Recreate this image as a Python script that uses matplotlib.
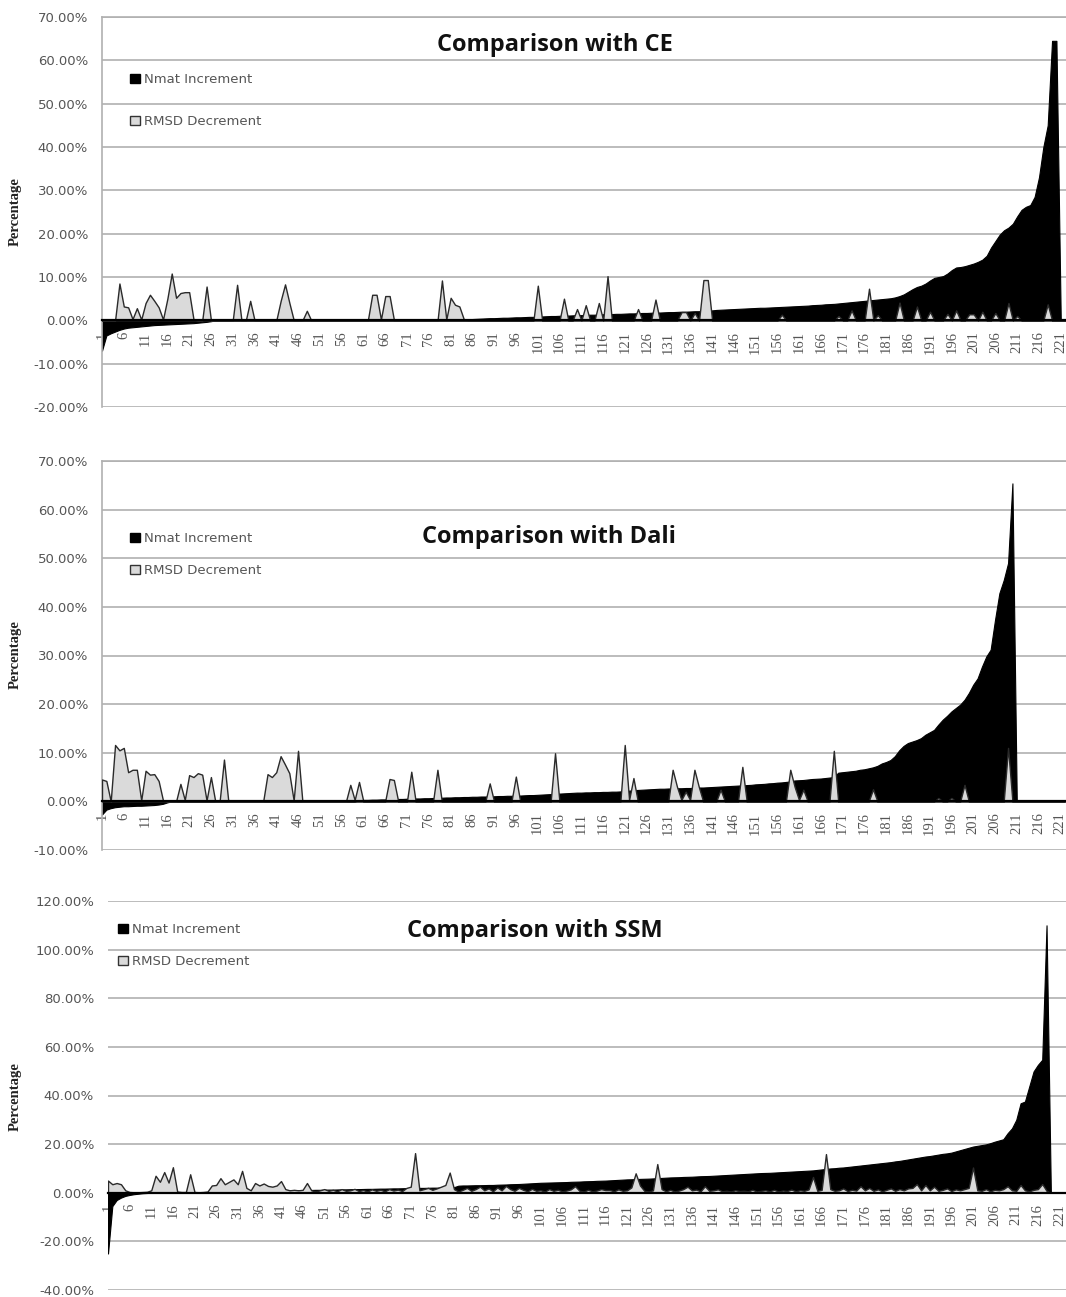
import matplotlib.pyplot as plt
import numpy as np
from matplotlib.patches import Patch

# category index 1..222 (one per structure pair)
cats = np.arange(1, 223)
tick_cats = list(range(1, 222, 5))

# ---- Comparison with CE ----
ce_nmat = [
    -7.0, -3.5, -3.0, -2.6, -2.2, -1.9, -1.7, -1.6, -1.5, -1.4,
    -1.3, -1.2, -1.1, -1.05, -1.0, -0.95, -0.9, -0.85, -0.8, -0.75,
    -0.7, -0.65, -0.55, -0.45, -0.35, -0.2, 0, 0, 0, 0,
    0, 0, 0, 0, 0, 0, 0, 0, 0, 0,
    0, 0, 0, 0, 0, 0, 0, 0, 0, 0,
    0, 0, 0, 0, 0, 0, 0, 0, 0, 0,
    0, 0, 0, 0, 0, 0, 0, 0, 0, 0,
    0, 0, 0, 0, 0, 0, 0, 0, 0, 0,
    0, 0, 0, 0, 0, 0.3, 0.35, 0.4, 0.45, 0.5,
    0.5, 0.55, 0.6, 0.6, 0.65, 0.7, 0.7, 0.75, 0.8, 0.8,
    0.85, 0.9, 0.95, 1.0, 1.0, 1.05, 1.1, 1.1, 1.15, 1.2,
    1.2, 1.25, 1.3, 1.3, 1.35, 1.4, 1.4, 1.45, 1.5, 1.5,
    1.55, 1.6, 1.6, 1.65, 1.7, 1.7, 1.75, 1.8, 1.8, 1.85,
    1.9, 1.9, 1.95, 2.0, 2.0, 2.05, 2.1, 2.1, 2.15, 2.2,
    2.3, 2.4, 2.45, 2.5, 2.55, 2.6, 2.65, 2.7, 2.75, 2.8,
    2.85, 2.9, 2.9, 2.95, 3.0, 3.05, 3.1, 3.15, 3.2, 3.25,
    3.3, 3.35, 3.4, 3.5, 3.55, 3.6, 3.7, 3.75, 3.8, 3.9,
    4.0, 4.1, 4.2, 4.3, 4.4, 4.5, 4.6, 4.7, 4.8, 4.9,
    5.0, 5.1, 5.3, 5.6, 6.0, 6.6, 7.2, 7.7, 8.0, 8.5,
    9.2, 9.8, 10.0, 10.2, 10.8, 11.6, 12.2, 12.3, 12.5, 12.8,
    13.1, 13.5, 14.0, 14.9, 16.8, 18.3, 19.8, 20.8, 21.4, 22.3,
    24.0, 25.5, 26.2, 26.6, 28.5, 33.0, 40.0, 45.0, 64.5, 64.5,
    0, 0,
]
ce_rmsd = [
    0, 0, 0, 0, 8.5, 3.2, 3.0, 0.3, 2.8, 0.2,
    4.0, 5.9, 4.5, 3.0, 0.2, 5.0, 10.8, 5.2, 6.3, 6.5,
    6.5, 0.2, 0, 0, 7.8, 0, 0, 0, 0, 0,
    0, 8.2, 0, 0, 4.5, 0, 0, 0, 0, 0,
    0, 4.5, 8.3, 4.0, 0, 0, 0, 2.2, 0, 0,
    0, 0, 0, 0, 0, 0, 0, 0, 0, 0,
    0, 0, 5.9, 5.9, 0.2, 5.6, 5.6, 0, 0, 0,
    0, 0, 0, 0, 0, 0, 0, 0, 9.2, 0.2,
    5.2, 3.6, 3.2, 0.3, 0, 0, 0, 0, 0, 0,
    0, 0, 0, 0, 0, 0, 0, 0, 0, 0,
    8.0, 0, 0, 0, 0, 0, 5.0, 0, 0, 2.6,
    0, 3.5, 0, 0, 4.0, 0, 10.2, 0, 0, 0,
    0, 0, 0, 2.6, 0, 0, 0, 4.8, 0, 0,
    0, 0, 0, 1.9, 1.9, 0, 1.7, 0, 9.3, 9.3,
    0, 0, 0, 0, 0, 0, 0, 0, 0, 0,
    0, 0, 0, 0, 0, 0, 1.3, 0, 0, 0,
    0, 0, 0, 0, 0, 0, 0, 0, 0, 1.0,
    0, 0, 2.3, 0, 0, 0, 7.3, 0, 1.2, 0,
    0, 0, 0, 4.1, 0, 0, 0, 3.2, 0, 0,
    2.0, 0, 0, 0, 1.5, 0, 2.3, 0, 0, 1.4,
    1.4, 0, 2.0, 0, 0, 1.7, 0, 0, 4.0, 0,
    1.0, 0, 0, 0, 0, 0, 0, 3.7, 0, 0,
    0, 0,
]

# ---- Comparison with Dali ----
dali_nmat = [
    -2.7, -1.7, -1.4, -1.2, -1.1, -1.0, -1.0, -0.95, -0.9, -0.9,
    -0.85, -0.8, -0.75, -0.65, -0.5, -0.2, 0, 0, 0, 0,
    0, 0, 0, 0, 0, 0, 0, 0, 0, 0,
    0, 0, 0, 0, 0, 0, 0, 0, 0, 0,
    0, 0, 0, 0, 0, 0, 0, 0, 0, 0,
    0, 0, 0, 0, 0, 0, 0, 0, 0, 0.2,
    0.3, 0.3, 0.35, 0.35, 0.4, 0.4, 0.45, 0.45, 0.5, 0.5,
    0.55, 0.55, 0.6, 0.6, 0.65, 0.65, 0.7, 0.7, 0.75, 0.8,
    0.8, 0.85, 0.85, 0.9, 0.9, 0.95, 0.95, 1.0, 1.0, 1.05,
    1.05, 1.1, 1.1, 1.15, 1.15, 1.2, 1.2, 1.25, 1.3, 1.3,
    1.35, 1.4, 1.45, 1.5, 1.55, 1.6, 1.65, 1.7, 1.75, 1.8,
    1.8, 1.85, 1.85, 1.9, 1.9, 1.95, 1.95, 2.0, 2.0, 2.05,
    2.1, 2.2, 2.3, 2.35, 2.4, 2.45, 2.5, 2.55, 2.6, 2.6,
    2.65, 2.65, 2.7, 2.7, 2.75, 2.75, 2.8, 2.85, 2.85, 2.9,
    2.95, 3.0, 3.05, 3.1, 3.15, 3.2, 3.25, 3.3, 3.35, 3.4,
    3.5, 3.55, 3.6, 3.7, 3.75, 3.85, 3.9, 4.0, 4.1, 4.3,
    4.35, 4.4, 4.5, 4.6, 4.65, 4.7, 4.8, 4.9, 5.0, 5.9,
    6.0, 6.1, 6.2, 6.3, 6.5, 6.6, 6.8, 7.0, 7.3, 7.8,
    8.1, 8.5, 9.3, 10.5, 11.4, 12.0, 12.3, 12.6, 13.0, 13.7,
    14.2, 14.7, 15.8, 16.8, 17.6, 18.5, 19.2, 19.9, 20.9, 22.3,
    24.0, 25.3, 27.7, 29.8, 31.2, 37.3, 42.8, 45.5, 49.0, 65.4,
    0, 0, 0, 0, 0, 0, 0, 0, 0, 0,
    0, 0,
]
dali_rmsd = [
    4.5, 4.2, 0, 11.6, 10.5, 11.0, 6.0, 6.5, 6.5, 0.2,
    6.3, 5.5, 5.6, 4.2, 0.2, 0, 0, 0, 3.6, 0.3,
    5.4, 5.0, 5.8, 5.5, 0.2, 5.0, 0, 0, 8.6, 0,
    0, 0, 0, 0, 0, 0, 0, 0, 5.6, 5.0,
    6.0, 9.3, 7.6, 5.8, 0.2, 10.4, 0, 0, 0, 0,
    0, 0, 0, 0, 0, 0, 0, 3.4, 0.3, 4.0,
    0, 0, 0, 0, 0, 0, 4.6, 4.4, 0, 0,
    0, 6.1, 0, 0, 0, 0, 0, 6.5, 0, 0,
    0, 0, 0, 0, 0, 0, 0, 0, 0, 3.7,
    0, 0, 0, 0, 0, 5.1, 0, 0, 0, 0,
    0, 0, 0, 0, 9.9, 0, 0, 0, 0, 0,
    0, 0, 0, 0, 0, 0, 0, 0, 0, 0,
    11.6, 0.3, 4.8, 0, 0, 0, 0, 0, 0, 0,
    0, 6.5, 3.0, 0.3, 2.0, 0.3, 6.5, 3.0, 0, 0,
    0, 0, 2.4, 0, 0, 0, 0, 7.1, 0, 0,
    0, 0, 0, 0, 0, 0, 0, 0, 6.5, 3.0,
    0.3, 2.4, 0, 0, 0, 0, 0, 0, 10.4, 0,
    0, 0, 0, 0, 0, 0, 0, 2.5, 0, 0,
    0, 0, 0, 0, 0, 0, 0, 0, 0, 0,
    0, 0, 0.7, 0, 0, 0.7, 0, 0, 3.4, 0,
    0, 0, 0, 0, 0, 0, 0, 0, 11.0, 0,
    0, 0, 0, 0, 0, 0, 0, 0, 0, 0,
    0, 0,
]

# ---- Comparison with SSM ----
ssm_nmat = [
    -25.0, -5.5, -3.0, -2.0, -1.3, -0.9, -0.6, -0.4, -0.2, -0.1,
    0, 0, 0, 0, 0, 0, 0, 0, 0, 0,
    0, 0, 0, 0, 0, 0, 0, 0, 0, 0,
    0, 0, 0, 0, 0, 0, 0, 0, 0, 0.5,
    0.8, 1.0, 1.0, 1.0, 1.05, 1.1, 1.1, 1.15, 1.2, 1.2,
    1.25, 1.3, 1.3, 1.35, 1.4, 1.4, 1.45, 1.5, 1.5, 1.55,
    1.6, 1.6, 1.65, 1.7, 1.7, 1.75, 1.8, 1.8, 1.85, 1.9,
    1.9, 1.95, 2.0, 2.0, 2.05, 2.1, 2.1, 2.15, 2.2, 2.2,
    2.3, 2.9, 3.0, 3.0, 3.05, 3.1, 3.1, 3.15, 3.2, 3.2,
    3.3, 3.35, 3.4, 3.5, 3.55, 3.6, 3.7, 3.8, 3.9, 4.0,
    4.1, 4.15, 4.2, 4.25, 4.3, 4.35, 4.4, 4.5, 4.55, 4.6,
    4.7, 4.75, 4.8, 4.9, 4.95, 5.0, 5.1, 5.2, 5.3, 5.4,
    5.5, 5.55, 5.6, 5.7, 5.75, 5.8, 5.9, 6.0, 6.1, 6.2,
    6.3, 6.35, 6.4, 6.5, 6.55, 6.6, 6.7, 6.8, 6.85, 6.9,
    7.0, 7.1, 7.2, 7.3, 7.4, 7.5, 7.6, 7.7, 7.8, 7.9,
    8.0, 8.1, 8.15, 8.2, 8.3, 8.4, 8.5, 8.6, 8.7, 8.8,
    8.9, 9.0, 9.1, 9.2, 9.4, 9.6, 9.8, 10.0, 10.1, 10.3,
    10.4, 10.6, 10.8, 11.0, 11.2, 11.4, 11.6, 11.8, 12.0, 12.2,
    12.4, 12.6, 12.9, 13.1, 13.4, 13.7, 14.0, 14.3, 14.6, 14.9,
    15.1, 15.4, 15.7, 16.0, 16.2, 16.5, 17.0, 17.5, 18.0, 18.5,
    19.0, 19.3, 19.6, 19.9, 20.4, 21.0, 21.5, 22.0, 24.5, 26.5,
    30.0, 36.8, 37.5, 43.7, 49.9, 52.6, 54.7, 110.0, 0, 0,
    0, 0,
]
ssm_rmsd = [
    5.0, 3.5, 4.0, 3.5, 1.0, 0.3, 0.2, 0.2, 0.3, 0.4,
    1.0, 7.0, 4.5, 8.5, 4.2, 10.5, 0.5, 0.3, 0.3, 7.6,
    0.3, 0.2, 0.3, 0.5, 3.0, 3.2, 6.0, 3.5, 4.5, 5.5,
    3.5, 9.0, 2.0, 1.0, 4.0, 3.0, 3.8, 2.8, 2.5, 3.0,
    4.8, 1.5, 1.0, 1.2, 1.0, 1.2, 4.0, 1.0, 0.5, 1.0,
    1.5, 0.8, 1.2, 0.6, 1.5, 0.8, 1.0, 1.6, 0.7, 1.1,
    0.5, 1.4, 0.8, 1.2, 0.6, 1.5, 0.9, 1.3, 0.7, 2.0,
    2.5, 16.3, 1.0, 1.5, 2.0, 1.2, 1.8, 2.5, 3.2, 8.3,
    1.5, 0.5, 1.2, 2.0, 0.8, 1.5, 2.5, 1.0, 1.8, 0.6,
    2.2, 1.0, 2.8, 1.5, 0.8, 2.0, 1.2, 0.6, 1.6, 0.8,
    1.0, 0.5, 1.5, 0.8, 1.2, 0.6, 0.9, 1.4, 2.7, 0.8,
    0.5, 1.2, 0.6, 0.9, 1.5, 1.1, 1.1, 0.6, 1.4, 0.8,
    1.0, 2.2, 8.0, 3.0, 0.8, 0.5, 1.0, 11.8, 1.5, 0.6,
    1.2, 0.5, 0.9, 1.5, 2.5, 1.0, 1.3, 0.6, 2.7, 0.8,
    1.0, 1.4, 0.6, 0.8, 0.5, 1.0, 0.7, 0.8, 0.6, 1.2,
    0.5, 0.8, 1.0, 0.6, 1.2, 0.5, 0.9, 0.7, 1.3, 0.6,
    1.0, 0.8, 1.4, 6.5, 0.8, 1.2, 15.9, 1.5, 0.8, 1.0,
    1.8, 0.7, 1.2, 0.9, 2.7, 1.0, 2.0, 0.8, 1.4, 0.6,
    1.2, 1.8, 0.8, 1.5, 1.0, 1.8, 2.0, 3.6, 1.0, 3.2,
    1.0, 2.5, 0.8, 1.2, 1.8, 0.7, 1.4, 1.0, 1.5, 2.0,
    10.4, 1.0, 0.8, 1.5, 0.6, 1.2, 1.0, 1.5, 2.7, 1.0,
    0.8, 3.2, 1.0, 0.6, 1.2, 1.5, 3.6, 0.8, 0, 0,
    0, 0,
]

W, H = 1066, 1297
GRID = '#b0b0b0'
TXT = '#555555'
GRAY_FILL = '#dadada'

fig = plt.figure(figsize=(W / 100, H / 100), dpi=100)

panels = [
    dict(left=102, top=17, bottom=407, xmax=222.2, ylim=(-20, 70), step=10,
         nmat=ce_nmat, rmsd=ce_rmsd, title='Comparison with CE', title_xy=(555, 45),
         leg_xy=(130, 73), leg_sp=2.2, ylab_y=212, box=True),
    dict(left=102, top=461, bottom=850, xmax=222.3, ylim=(-10, 70), step=10,
         nmat=dali_nmat, rmsd=dali_rmsd, title='Comparison with Dali', title_xy=(549, 537),
         leg_xy=(130, 532), leg_sp=1.45, ylab_y=655, box=True),
    dict(left=108, top=901, bottom=1290, xmax=222.5, ylim=(-40, 120), step=20,
         nmat=ssm_nmat, rmsd=ssm_rmsd, title='Comparison with SSM', title_xy=(535, 931),
         leg_xy=(118, 923), leg_sp=1.45, ylab_y=1097, box=False),
]

for p in panels:
    ax = fig.add_axes([p['left'] / W, 1 - p['bottom'] / H,
                       1 - p['left'] / W, (p['bottom'] - p['top']) / H])
    # category axis crosses at 0 (set before tick labels, it resets ticks)
    ax.spines['bottom'].set_position(('data', 0))

    ax.fill_between(cats, 0, p['nmat'], facecolor='black', edgecolor='black',
                    linewidth=0.8, zorder=2)
    ax.fill_between(cats, 0, p['rmsd'], facecolor=GRAY_FILL, edgecolor='#2a2a2a',
                    linewidth=1.0, zorder=3)

    ax.set_xlim(1, p['xmax'])
    ax.set_ylim(*p['ylim'])
    yt = np.arange(p['ylim'][0], p['ylim'][1] + 1, p['step'])
    ax.set_yticks(yt)
    ax.set_yticklabels([f'{v:.2f}%' for v in yt], fontsize=9.5, color=TXT)
    ax.set_xticks(tick_cats)
    ax.set_xticklabels([str(c) for c in tick_cats], rotation=90, fontsize=10.5,
                       family='Liberation Serif', color=TXT)
    ax.tick_params(axis='y', length=0, pad=10)
    ax.tick_params(axis='x', length=0, pad=8)
    ax.yaxis.grid(True, color=GRID, linewidth=1.2, zorder=0)
    ax.set_axisbelow(True)

    ax.spines['bottom'].set_color('black')
    ax.spines['bottom'].set_linewidth(1.6)
    ax.spines['bottom'].set_zorder(4)
    ax.spines['right'].set_visible(False)
    if p['box']:
        for s in ('left', 'top'):
            ax.spines[s].set_color(GRID)
            ax.spines[s].set_linewidth(1.2)
    else:
        ax.spines['left'].set_visible(False)
        ax.spines['top'].set_visible(False)

    handles = [Patch(facecolor='black', edgecolor='black', label='Nmat Increment'),
               Patch(facecolor=GRAY_FILL, edgecolor='#333333', label='RMSD Decrement')]
    ax.legend(handles=handles, loc='upper left',
              bbox_to_anchor=(p['leg_xy'][0] / W, 1 - p['leg_xy'][1] / H),
              bbox_transform=fig.transFigure, frameon=False, fontsize=9.5,
              labelcolor=TXT, handlelength=0.75, handleheight=0.75, handletextpad=0.3,
              borderpad=0, borderaxespad=0, labelspacing=p['leg_sp'])

    fig.text(p['title_xy'][0] / W, 1 - p['title_xy'][1] / H, p['title'],
             ha='center', va='center', fontsize=17, fontweight='bold',
             family='Open Sans', color='#111111')
    fig.text(15 / W, 1 - p['ylab_y'] / H, 'Percentage', rotation=90,
             ha='center', va='center', fontsize=10.5, fontweight='bold',
             family='Liberation Serif', color='#222222')

fig.savefig('out.png', dpi=100)
